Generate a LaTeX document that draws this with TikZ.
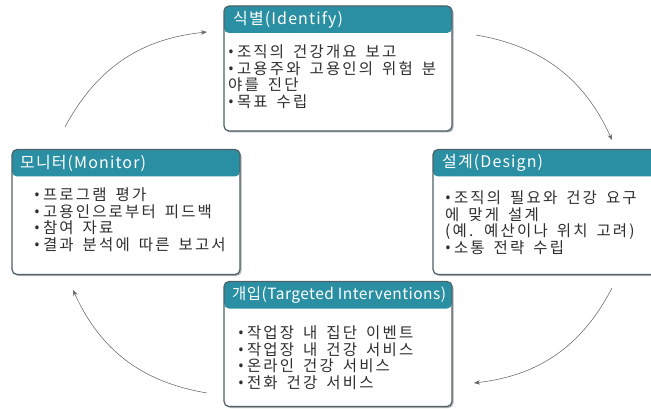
\documentclass[tikz,border=0pt]{standalone}
\usepackage{fontspec}
\setmainfont{Noto Sans CJK KR}[LetterSpace=14, WordSpace=1.6]
\newfontfamily\titleface{Noto Sans CJK KR}[LetterSpace=7]
\newfontfamily\narrowtitleface{Noto Sans CJK KR}[LetterSpace=3]
\newfontfamily\bulletface{Noto Sans}
\usetikzlibrary{arrows.meta}

\definecolor{hdrteal}{HTML}{2B8FA3}
\definecolor{frame}{HTML}{4E6166}
\definecolor{bodytext}{HTML}{2E2E2E}
\definecolor{arcgray}{HTML}{666666}

\newcommand\itemdot{{\bulletface •}\hspace{3pt}}

\tikzset{
  stage/.style={
    draw=frame, line width=1.2pt, fill=white, rounded corners=5pt,
    minimum width=228pt, minimum height=125pt, inner sep=0pt,
    preaction={fill=black!30, transform canvas={xshift=1.5pt, yshift=-1.5pt}},
    path picture={\fill[hdrteal] (path picture bounding box.north west)
      rectangle ([yshift=-27pt]path picture bounding box.north east);}},
  title/.style={anchor=west, text=white, inner sep=0pt,
    font=\titleface\fontsize{16}{18}\selectfont},
  narrowtitle/.style={title, font=\narrowtitleface\fontsize{15.5}{18}\selectfont},
  items/.style={anchor=north west, align=left, text=bodytext, inner sep=0pt,
    font=\fontsize{15.5}{16.7}\selectfont},
  cyclearc/.style={draw=arcgray, line width=0.55pt,
    -{Stealth[length=6pt, width=4.5pt]}, bend left=28}
}

\begin{document}
\begin{tikzpicture}[x=1pt, y=-1pt]
  \useasboundingbox (0,0) rectangle (651,409);
  \clip (0,0) rectangle (651,409);

  % the four stages of the cycle
  \node[stage] (idf) at (338,68.5) {};
  \node[stage] (mon) at (126,212) {};
  \node[stage] (dsg) at (547,212) {};
  \node[stage] (itv) at (338,344) {};

  % titles
  \node[title] (idfT) at (233,20) {식별(Identify)};
  \node[title] (monT) at (20,163) {모니터(Monitor)};
  \node[title] (dsgT) at (442,163) {설계(Design)};
  \node[narrowtitle] (itvT) at (232,295) {개입(Targeted Interventions)};

  % item lists
  \node[items] (idfL) at (228,44.5) {\itemdot 조직의 건강개요 보고\\
    \itemdot 고용주와 고용인의 위험 분\\야를 진단\\\itemdot 목표 수립};
  \node[items] (monL) at (34,187.5) {\itemdot 프로그램 평가\\
    \itemdot 고용인으로부터 피드백\\\itemdot 참여 자료\\
    \itemdot 결과 분석에 따른 보고서};
  \node[items] (dsgL) at (445,190.5) {\itemdot 조직의 필요와 건강 요구\\
    에 맞게 설계\\(예. 예산이나 위치 고려)\\\itemdot 소통 전략 수립};
  \node[items] (itvL) at (238,325.5) {\itemdot 작업장 내 집단 이벤트\\
    \itemdot 작업장 내 건강 서비스\\\itemdot 온라인 건강 서비스\\
    \itemdot 전화 건강 서비스};

  % circular arrows between the stages
  \coordinate (a1) at (65,127);  \coordinate (a2) at (207,32);
  \coordinate (a3) at (476,35);  \coordinate (a4) at (612,140);
  \coordinate (a5) at (612,288); \coordinate (a6) at (474,383);
  \coordinate (a7) at (207,393); \coordinate (a8) at (73,290);
  \draw[cyclearc] (a1) to (a2);
  \draw[cyclearc] (a3) to (a4);
  \draw[cyclearc] (a5) to (a6);
  \draw[cyclearc] (a7) to (a8);
\end{tikzpicture}
\end{document}
